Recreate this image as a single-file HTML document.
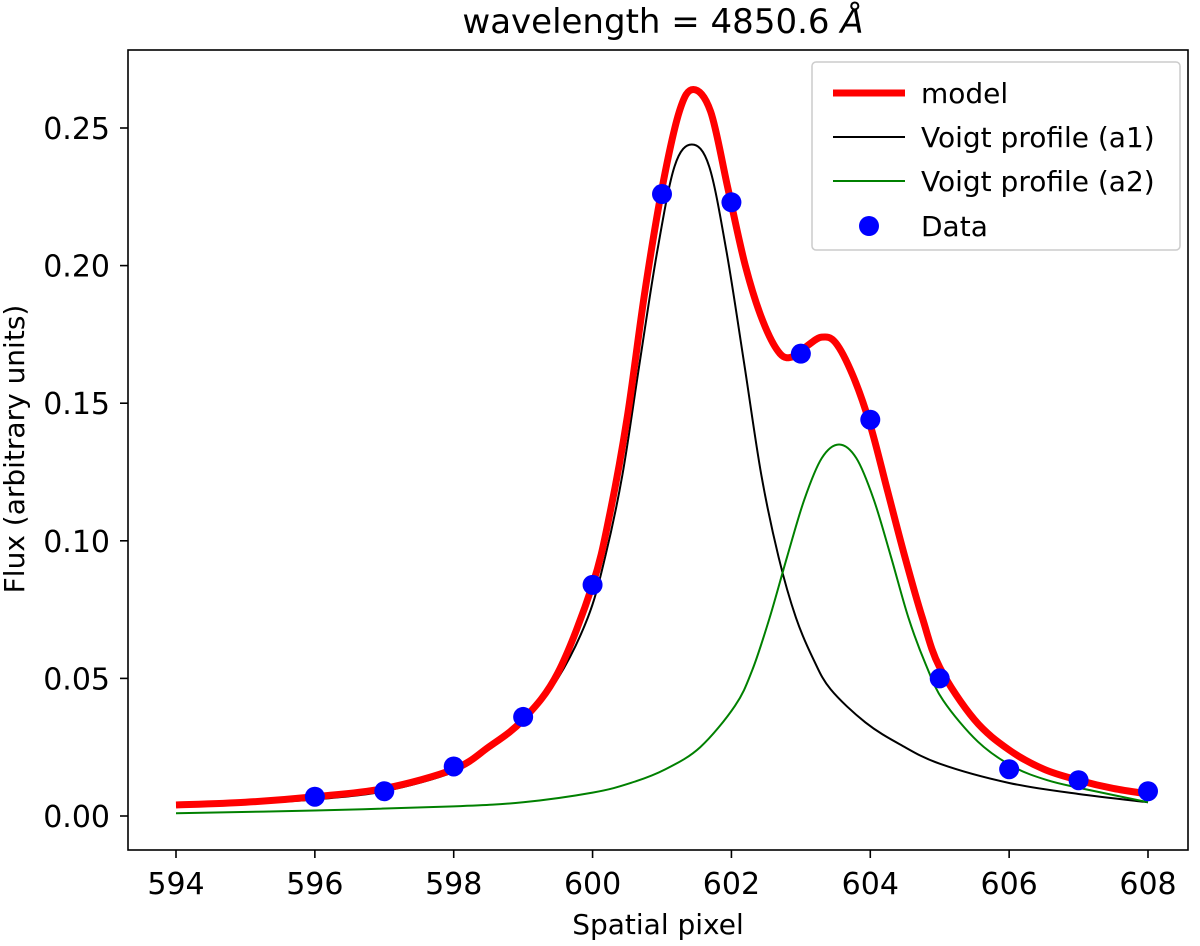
<!DOCTYPE html>
<html><head><meta charset="utf-8"><style>
body{margin:0;background:#fff;}
svg text{font-family:"DejaVu Sans","Liberation Sans",sans-serif;fill:#000;}
</style></head><body>
<svg id="chart" width="1200" height="941" xmlns="http://www.w3.org/2000/svg">
<text x="663" y="33" font-size="34" text-anchor="middle">wavelength = 4850.6 <tspan font-style="italic">Å</tspan></text>
<g id="ticks"></g>
<g id="series"></g>
<rect x="128" y="50" width="1060" height="800" fill="none" stroke="#000" stroke-width="1.6"/>
<text x="658" y="934" font-size="28" text-anchor="middle">Spatial pixel</text>
<text transform="translate(24,449) rotate(-90)" font-size="28" text-anchor="middle">Flux (arbitrary units)</text>
<g>
<rect x="812" y="62" width="368" height="188" rx="4" fill="#fff" fill-opacity="0.8" stroke="#ccc" stroke-width="1.5"/>
<line x1="833" y1="93" x2="905" y2="93" stroke="#f00" stroke-width="7"/>
<text x="921" y="103" font-size="28">model</text>
<line x1="833" y1="137" x2="905" y2="137" stroke="#000" stroke-width="2"/>
<text x="921" y="147" font-size="28">Voigt profile (a1)</text>
<line x1="833" y1="181" x2="905" y2="181" stroke="#008000" stroke-width="2"/>
<text x="921" y="191" font-size="28">Voigt profile (a2)</text>
<circle cx="869" cy="226" r="10" fill="#00f"/>
<text x="921" y="236" font-size="28">Data</text>
</g>
</svg>
<script>
const xTicks=[594,596,598,600,602,604,606,608];
const yTicks=[0,0.05,0.10,0.15,0.20,0.25];
const yTickLabels=["0.00","0.05","0.10","0.15","0.20","0.25"];
const a1X=[594,595,596,597,598,598.5,599,599.5,599.93,600.18,600.43,600.68,600.93,601.18,601.43,601.68,601.93,602.18,602.43,602.68,602.93,603.18,603.43,603.93,604.43,605,606,607,608];
const a1Y=[0.0035,0.0045,0.006,0.009,0.016,0.024,0.034,0.05,0.072,0.094,0.124,0.165,0.205,0.236,0.244,0.236,0.205,0.165,0.124,0.094,0.072,0.057,0.046,0.034,0.026,0.019,0.012,0.008,0.005];
const a2X=[594,596,598,599,600,600.55,601.05,601.55,602.05,602.3,602.55,602.8,603.05,603.3,603.55,603.8,604.05,604.3,604.55,604.8,605.05,605.55,606.05,606.55,607.05,608];
const a2Y=[0.001,0.002,0.0035,0.005,0.0085,0.012,0.017,0.025,0.04,0.053,0.072,0.094,0.115,0.13,0.135,0.13,0.115,0.094,0.072,0.055,0.042,0.027,0.018,0.013,0.01,0.005];
const modelX=[594,595,596,597,598,598.5,599,599.5,600,600.25,600.5,600.75,601,601.25,601.45,601.7,601.95,602.2,602.45,602.7,602.9,603.1,603.3,603.5,603.75,604,604.25,604.5,604.75,605,605.5,606,606.5,607,607.5,608];
const modelY=[0.004,0.005,0.007,0.010,0.017,0.025,0.035,0.052,0.084,0.11,0.145,0.19,0.228,0.256,0.264,0.256,0.228,0.2,0.18,0.168,0.167,0.171,0.174,0.172,0.16,0.142,0.118,0.094,0.072,0.054,0.035,0.024,0.017,0.013,0.01,0.008];
const dataX=[596,597,598,599,600,601,602,603,604,605,606,607,608];
const dataY=[0.007,0.009,0.018,0.036,0.084,0.226,0.223,0.168,0.144,0.050,0.017,0.013,0.009];

const NS="http://www.w3.org/2000/svg";
const sx=v=>176+(v-594)*(972/14);
const sy=v=>816-v*2752;
function mk(tag,attrs,parent){const e=document.createElementNS(NS,tag);for(const k in attrs)e.setAttribute(k,attrs[k]);parent.appendChild(e);return e;}
const tg=document.getElementById('ticks'), sg=document.getElementById('series');
xTicks.forEach(t=>{
  const l=mk('line',{x1:sx(t),x2:sx(t),y1:850,y2:858,stroke:'#000','stroke-width':1.6},tg);
  
  
  const tx=mk('text',{x:sx(t),y:894,'font-size':30,'text-anchor':'middle'},tg);tx.textContent=t;
  
  
});
yTicks.forEach((t,i)=>{
  const l=mk('line',{x1:120,x2:128,y1:sy(t),y2:sy(t),stroke:'#000','stroke-width':1.6},tg);
  
  
  const tx=mk('text',{x:110,y:sy(t)+11,'font-size':30,'text-anchor':'end'},tg);tx.textContent=yTickLabels[i];
  
  
});
function pathD(xs,ys){
  const p=xs.map((x,i)=>[sx(x),sy(ys[i])]);
  let d='M'+p[0][0]+','+p[0][1];
  for(let i=0;i<p.length-1;i++){
    const p0=p[Math.max(0,i-1)],p1=p[i],p2=p[i+1],p3=p[Math.min(p.length-1,i+2)];
    const c1=[p1[0]+(p2[0]-p0[0])/6,p1[1]+(p2[1]-p0[1])/6];
    const c2=[p2[0]-(p3[0]-p1[0])/6,p2[1]-(p3[1]-p1[1])/6];
    d+=' C'+c1+' '+c2+' '+p2;
  }
  return d;
}
const a1=mk('path',{d:pathD(a1X,a1Y),fill:'none',stroke:'#000','stroke-width':2},sg);


const a2=mk('path',{d:pathD(a2X,a2Y),fill:'none',stroke:'#008000','stroke-width':2},sg);


const m=mk('path',{d:pathD(modelX,modelY),fill:'none',stroke:'#f00','stroke-width':7,'stroke-linejoin':'round'},sg);


dataX.forEach((x,i)=>{
  const c=mk('circle',{cx:sx(x),cy:sy(dataY[i]),r:10,fill:'#00f'},sg);
  
  
});
</script>
</body></html>
